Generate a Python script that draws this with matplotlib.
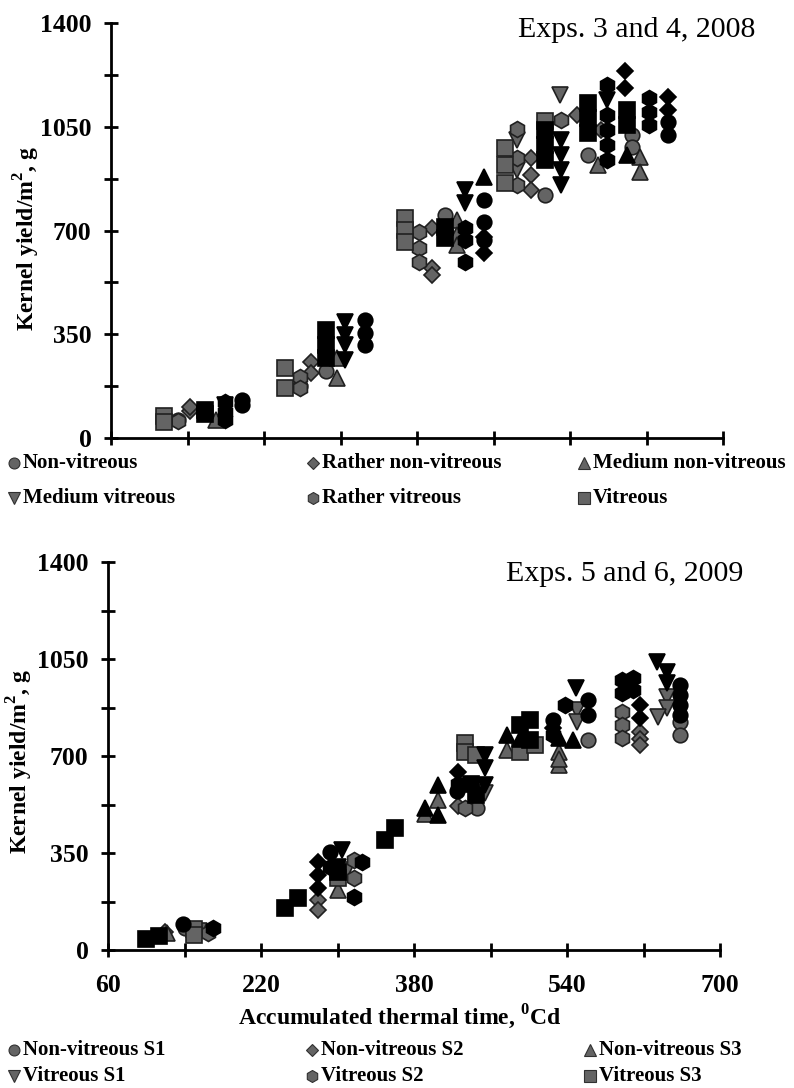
import matplotlib.pyplot as plt
from matplotlib.lines import Line2D
from matplotlib.ticker import FixedLocator, FuncFormatter

plt.rcParams['font.family'] = ['Liberation Serif', 'DejaVu Serif']
plt.rcParams['mathtext.fontset'] = 'custom'
plt.rcParams['mathtext.rm'] = 'Liberation Serif'
plt.rcParams['mathtext.bf'] = 'Liberation Serif:bold'

# (accumulated thermal time, kernel yield, dark marker?) per class
# Exps. 3 and 4, 2008
TOP_NON_VITREOUS = [(130, 61, 0), (258, 175, 0), (285, 226, 0), (409, 752, 0), (514, 820, 0),
                    (559, 954, 0), (605, 1022, 0), (605, 981, 0),
                    (197, 128, 1), (197, 112, 1), (326, 398, 1), (326, 354, 1), (326, 314, 1),
                    (450, 803, 1), (450, 728, 1), (450, 668, 1), (642, 1066, 1), (642, 1022, 1)]
TOP_RATHER_NON = [(143, 91, 0), (143, 105, 0), (269, 256, 0), (269, 219, 0), (396, 708, 0),
                  (396, 573, 0), (396, 550, 0), (499, 944, 0), (499, 887, 0), (499, 836, 0),
                  (547, 1090, 0), (572, 1039, 0),
                  (450, 678, 1), (450, 624, 1), (598, 1238, 1), (598, 1180, 1),
                  (642, 1150, 1), (642, 1106, 1)]
TOP_MEDIUM_NON = [(170, 61, 0), (296, 202, 0), (296, 270, 0), (422, 735, 0), (422, 685, 0),
                  (422, 651, 0), (569, 921, 0), (613, 948, 0), (613, 897, 0),
                  (450, 880, 1), (600, 954, 1)]
TOP_MEDIUM_VIT = [(485, 1005, 0), (485, 904, 0), (530, 1157, 0),
                  (179, 110, 1), (305, 391, 1), (305, 347, 1), (305, 314, 1), (305, 263, 1),
                  (430, 836, 1), (430, 793, 1), (531, 1005, 1), (531, 955, 1), (531, 904, 1),
                  (531, 853, 1), (579, 1140, 1)]
TOP_RATHER_VIT = [(130, 57, 0), (258, 206, 0), (258, 169, 0), (382, 695, 0), (382, 641, 0),
                  (382, 594, 0), (485, 1042, 0), (485, 944, 0), (485, 853, 0), (531, 1073, 0),
                  (179, 121, 1), (179, 88, 1), (179, 61, 1), (430, 708, 1), (430, 668, 1),
                  (430, 594, 1), (579, 1191, 1), (579, 1090, 1), (579, 1039, 1), (579, 988, 1),
                  (579, 938, 1), (623, 1147, 1), (623, 1100, 1), (623, 1056, 1)]
TOP_VITREOUS = [(115, 75, 0), (115, 55, 0), (242, 236, 0), (242, 169, 0), (367, 742, 0),
                (367, 702, 0), (367, 661, 0), (472, 978, 0), (472, 921, 0), (472, 860, 0),
                (514, 1070, 0),
                (158, 95, 1), (158, 80, 1), (285, 364, 1), (285, 314, 1), (285, 270, 1),
                (409, 712, 1), (409, 675, 1), (514, 1039, 1), (514, 988, 1), (514, 938, 1),
                (559, 1130, 1), (559, 1079, 1), (559, 1029, 1), (600, 1106, 1), (600, 1056, 1)]

# Exps. 5 and 6, 2009
BOT_NON_VIT_S1 = [(140, 80, 0), (446, 512, 0), (562, 758, 0), (658, 823, 0), (658, 776, 0),
                  (138, 95, 1), (292, 353, 1), (425, 575, 1), (525, 830, 1), (562, 902, 1),
                  (562, 848, 1), (658, 956, 1), (658, 920, 1), (658, 884, 1), (658, 848, 1)]
BOT_NON_VIT_S2 = [(120, 65, 0), (280, 180, 0), (280, 145, 0), (616, 786, 0), (616, 760, 0),
                  (616, 740, 0), (426, 520, 0),
                  (280, 317, 1), (280, 270, 1), (280, 224, 1), (426, 642, 1), (616, 884, 1),
                  (616, 837, 1), (525, 800, 1)]
BOT_NON_VIT_S3 = [(122, 60, 0), (300, 215, 0), (405, 541, 0), (392, 490, 0), (532, 714, 0),
                  (532, 667, 0), (477, 722, 0), (532, 690, 0),
                  (392, 512, 1), (405, 595, 1), (405, 487, 1), (477, 776, 1), (532, 765, 1),
                  (546, 758, 1), (491, 760, 1)]
BOT_VIT_S1 = [(155, 70, 0), (550, 866, 0), (550, 823, 0), (645, 913, 0), (645, 873, 0),
              (635, 841, 0), (454, 566, 0), (310, 290, 0),
              (305, 360, 1), (454, 703, 1), (454, 657, 1), (454, 595, 1), (549, 945, 1),
              (634, 1039, 1), (645, 1003, 1), (645, 963, 1), (300, 300, 1)]
BOT_VIT_S2 = [(165, 60, 0), (317, 325, 0), (317, 260, 0), (433, 512, 0), (598, 859, 0),
              (598, 812, 0), (598, 765, 0),
              (170, 80, 1), (326, 317, 1), (317, 190, 1), (292, 300, 1), (538, 884, 1),
              (525, 776, 1), (598, 974, 1), (598, 927, 1), (609, 981, 1), (609, 938, 1),
              (426, 600, 1)]
BOT_VIT_S3 = [(150, 75, 0), (150, 55, 0), (433, 747, 0), (433, 714, 0), (445, 705, 0),
              (491, 714, 0), (507, 740, 0), (300, 260, 0),
              (100, 40, 1), (113, 50, 1), (245, 152, 1), (259, 188, 1), (350, 397, 1),
              (360, 440, 1), (440, 600, 1), (445, 560, 1), (491, 812, 1), (501, 830, 1),
              (501, 758, 1), (300, 280, 1)]

TOP_LABELS = ['Non-vitreous', 'Rather non-vitreous', 'Medium non-vitreous',
              'Medium vitreous', 'Rather vitreous', 'Vitreous']
BOT_LABELS = ['Non-vitreous S1', 'Non-vitreous S2', 'Non-vitreous S3',
              'Vitreous S1', 'Vitreous S2', 'Vitreous S3']

MARKERS = ['o', 'D', '^', 'v', 'h', 's']
SIZES = [10.5, 8, 11.5, 11.5, 11.5, 11]
GRAY = '#646464'


def draw_series(ax, pts, marker, ms):
    for dark in (0, 1):
        xs = [p[0] for p in pts if p[2] == dark]
        ys = [p[1] for p in pts if p[2] == dark]
        face = 'black' if dark else GRAY
        ax.plot(xs, ys, ls='none', marker=marker, ms=ms, mfc=face,
                mec='black' if dark else '#202020', mew=1.2, zorder=3 + dark)


def style_axes(ax, xlabels):
    ax.set_xlim(60, 700)
    ax.set_ylim(0, 1400)
    for s in ['top', 'right']:
        ax.spines[s].set_visible(False)
    for s in ['left', 'bottom']:
        ax.spines[s].set_linewidth(2)
    ax.xaxis.set_major_locator(FixedLocator(range(60, 701, 80)))
    ax.yaxis.set_major_locator(FixedLocator(range(0, 1401, 175)))
    if xlabels:
        ax.xaxis.set_major_formatter(FuncFormatter(lambda v, p: '%d' % v if (v - 60) % 160 == 0 else ''))
    else:
        ax.xaxis.set_major_formatter(FuncFormatter(lambda v, p: ''))
    ax.yaxis.set_major_formatter(FuncFormatter(lambda v, p: '%d' % v if v % 350 == 0 else ''))
    ax.tick_params(direction='inout', length=10, width=2, labelsize=18.5)
    ax.tick_params(axis='y', pad=9)
    ax.tick_params(axis='x', pad=12)
    for lab in ax.get_xticklabels() + ax.get_yticklabels():
        lab.set_fontweight('bold')
    ax.set_ylabel(r'Kernel yield/m$^{\mathbf{2}}$, g', fontsize=17, fontweight='bold')


def draw_legend(fig, labels, xs, ys, gap, size):
    for i, lab in enumerate(labels):
        x = xs[i % 3] / 794
        y = 1 - ys[i // 3] / 1088
        fig.add_artist(Line2D([x], [y], marker=MARKERS[i], ms=SIZES[i] * 0.75, mfc=GRAY,
                              mec='#303030', mew=0.8, ls='none', transform=fig.transFigure))
        fig.text(x + gap / 794, y, lab, fontsize=size, fontweight='bold', va='center', ha='left')


fig = plt.figure(figsize=(7.94, 10.88), dpi=100)

ax1 = fig.add_axes([111 / 794, 1 - 438 / 1088, 612 / 794, 415 / 1088])
for pts, m, ms in zip([TOP_NON_VITREOUS, TOP_RATHER_NON, TOP_MEDIUM_NON,
                       TOP_MEDIUM_VIT, TOP_RATHER_VIT, TOP_VITREOUS], MARKERS, SIZES):
    draw_series(ax1, pts, m, ms)
style_axes(ax1, False)
ax1.yaxis.set_label_coords(-0.112, 0.48)
fig.text(755 / 794, 1 - 30 / 1088, 'Exps. 3 and 4, 2008', fontsize=21.5, ha='right', va='center')

ax2 = fig.add_axes([108 / 794, 1 - 950 / 1088, 612 / 794, 388 / 1088])
for pts, m, ms in zip([BOT_NON_VIT_S1, BOT_NON_VIT_S2, BOT_NON_VIT_S3,
                       BOT_VIT_S1, BOT_VIT_S2, BOT_VIT_S3], MARKERS, SIZES):
    draw_series(ax2, pts, m, ms)
style_axes(ax2, True)
ax2.yaxis.set_label_coords(-0.12, 0.485)
ax2.set_xlabel(r'Accumulated thermal time, $^{\mathbf{0}}$Cd', fontsize=17, fontweight='bold')
ax2.xaxis.set_label_coords(0.477, -0.135)
fig.text(743 / 794, 1 - 574 / 1088, 'Exps. 5 and 6, 2009', fontsize=21.5, ha='right', va='center')

draw_legend(fig, TOP_LABELS, [14, 313, 584], [463, 498], 9, 15)
draw_legend(fig, BOT_LABELS, [14, 312, 590], [1050, 1076], 9, 15)

fig.savefig('out.png', dpi=100)
